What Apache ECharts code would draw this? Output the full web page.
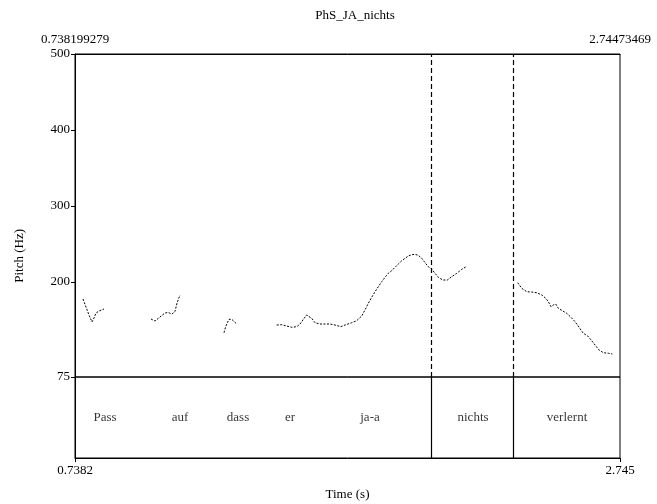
<html>
<head>
    <meta charset="utf-8">
    <script src="https://cdn.jsdelivr.net/npm/echarts@6/dist/echarts.min.js"></script>
    <title>PhS_JA_nichts</title>
    <style>
        html, body { margin: 0; padding: 0; background: #fff; }
    </style>
</head>
<body>
    <div id="main" style="width: 657px; height: 504px;"></div>
    <script>
        // time range of the selection (s)
        const tMin = 0.738199279;
        const tMax = 2.74473469;
        const pitchTicks = [75, 200, 300, 400, 500];

        // pitch contour pieces, [time (s), Hz]
        const seg1 = [[0.7677, 177.6], [0.7787, 167.0], [0.7897, 156.6], [0.8008, 147.4], [0.8082, 152.6],
            [0.8155, 159.2], [0.8266, 161.8], [0.8450, 164.5]];
        const seg2 = [[1.0180, 151.3], [1.0327, 148.7], [1.0512, 154.0], [1.0696, 159.2], [1.0806, 159.9],
            [1.0953, 157.9], [1.1064, 161.2], [1.1138, 172.4], [1.1248, 182.9]];
        const seg3 = [[1.2868, 133.3], [1.2930, 141.2], [1.2989, 146.4], [1.3052, 150.9], [1.3151, 150.9],
            [1.3247, 147.8], [1.3336, 144.7]];
        const seg4 = [[1.4809, 143.4], [1.4993, 143.8], [1.5177, 142.1], [1.5361, 140.4], [1.5545, 141.2],
            [1.5667, 144.7], [1.5788, 150.9], [1.5913, 156.6], [1.6097, 152.2], [1.6219, 146.4],
            [1.6403, 144.7], [1.6587, 144.7], [1.6771, 144.7], [1.6955, 143.4], [1.7165, 141.2],
            [1.7323, 143.4], [1.7570, 146.4], [1.7754, 149.1], [1.7938, 155.3], [1.8060, 163.2],
            [1.8181, 172.0], [1.8306, 179.9], [1.8428, 187.2], [1.8550, 193.8], [1.8675, 200.4],
            [1.8796, 206.2], [1.8918, 211.4], [1.9043, 214.9], [1.9164, 219.3], [1.9286, 223.7],
            [1.9411, 228.0], [1.9533, 231.2], [1.9654, 234.2], [1.9779, 235.9], [1.9901, 236.4],
            [2.0022, 235.1], [2.0148, 231.2], [2.0269, 225.4], [2.0391, 220.1], [2.0516, 216.7],
            [2.0637, 211.4], [2.0759, 206.2], [2.0921, 202.6], [2.1090, 202.6], [2.1252, 207.0],
            [2.1436, 211.4], [2.1620, 216.7], [2.1779, 220.1]];
        const seg5 = [[2.3682, 199.1], [2.3829, 191.7], [2.4014, 187.2], [2.4198, 186.8], [2.4382, 185.9],
            [2.4566, 182.9], [2.4713, 178.6], [2.4809, 174.1], [2.4908, 167.5], [2.4993, 169.7],
            [2.5082, 171.0], [2.5177, 165.4], [2.5324, 162.2], [2.5486, 158.8], [2.5645, 153.5],
            [2.5792, 147.8], [2.5939, 140.4], [2.6098, 132.5], [2.6260, 128.9], [2.6382, 123.7],
            [2.6529, 117.1], [2.6676, 110.5], [2.6834, 107.0], [2.7019, 106.2], [2.7166, 105.3]];

        // text grid
        const boundaries = [2.0526, 2.3509];
        const words = ['Pass', 'auf', 'dass', 'er', 'ja-a', 'nichts', 'verlernt'];
        const wordTimes = [0.8487, 1.1248, 1.3384, 1.5298, 1.8243, 2.2036, 2.5497];

        const font = 'Liberation Serif, Times New Roman, serif';
        const black = '#000';

        var myChart = echarts.init(document.getElementById('main'), null, { renderer: 'canvas' });

        const contour = [seg1, seg2, seg3, seg4, seg5].map((seg, i) => ({
            type: 'line',
            xAxisIndex: 0,
            yAxisIndex: 0,
            data: seg,
            symbol: 'none',
            silent: true,
            animation: false,
            lineStyle: { color: black, width: 1, type: [2, 1.5] },
            markLine: i == 0 ? {
                silent: true,
                symbol: 'none',
                label: { show: false },
                lineStyle: { color: black, width: 1.2, type: [5, 3] },
                data: boundaries.map(b => ({ xAxis: b }))
            } : undefined
        }));

        const option = {
            backgroundColor: '#FFFFFF',
            animation: false,
            title: {
                text: 'PhS_JA_nichts',
                left: 350,
                top: 4,
                textAlign: 'center',
                textStyle: { fontFamily: font, fontSize: 13, fontWeight: 'normal', color: black }
            },
            graphic: [{
                type: 'text',
                left: 13,
                top: 229,
                rotation: Math.PI / 2,
                style: { text: 'Pitch (Hz)', font: '13px ' + font, fill: black }
            }],
            grid: [
                { left: 75, right: 37, top: 54, height: 323, show: true, borderColor: black, borderWidth: 1 },
                { left: 75, right: 37, top: 377, height: 81, show: true, borderColor: black, borderWidth: 1 }
            ],
            xAxis: [{
                gridIndex: 0,
                type: 'value',
                position: 'top',
                min: tMin,
                max: tMax,
                axisLine: { show: true, lineStyle: { color: black } },
                axisTick: { show: false },
                splitLine: { show: false },
                axisLabel: {
                    customValues: [tMin, tMax],
                    showMinLabel: true,
                    showMaxLabel: true,
                    margin: 8,
                    fontFamily: font,
                    fontSize: 13,
                    color: black,
                    formatter: v => (v < 1 ? '0.738199279' : '2.74473469')
                }
            }, {
                gridIndex: 1,
                type: 'value',
                min: tMin,
                max: tMax,
                name: 'Time (s)',
                nameLocation: 'middle',
                nameGap: 30,
                nameTextStyle: { fontFamily: font, fontSize: 13, color: black },
                axisLine: { show: true, lineStyle: { color: black } },
                axisTick: { show: true, length: 4, customValues: [tMin, tMax], lineStyle: { color: black } },
                splitLine: { show: false },
                axisLabel: {
                    customValues: [tMin, tMax],
                    showMinLabel: true,
                    showMaxLabel: true,
                    margin: 6,
                    fontFamily: font,
                    fontSize: 13,
                    color: black,
                    formatter: v => (v < 1 ? '0.7382' : '2.745')
                }
            }],
            yAxis: [{
                gridIndex: 0,
                type: 'value',
                min: 75,
                max: 500,
                axisLine: { show: true, lineStyle: { color: black } },
                axisTick: { show: true, length: 4, customValues: pitchTicks, lineStyle: { color: black } },
                splitLine: { show: false },
                axisLabel: {
                    customValues: pitchTicks,
                    showMinLabel: true,
                    showMaxLabel: true,
                    margin: 5,
                    fontFamily: font,
                    fontSize: 13,
                    color: black
                }
            }, {
                gridIndex: 1,
                type: 'value',
                min: 0,
                max: 1,
                axisLine: { show: true, lineStyle: { color: black } },
                axisTick: { show: false },
                axisLabel: { show: false },
                splitLine: { show: false }
            }],
            series: contour.concat([{
                type: 'scatter',
                xAxisIndex: 1,
                yAxisIndex: 1,
                symbolSize: 0,
                silent: true,
                data: wordTimes.map((t, i) => ({ value: [t, 0.5], name: words[i] })),
                label: {
                    show: true,
                    position: 'inside',
                    formatter: p => p.name,
                    fontFamily: font,
                    fontSize: 13,
                    color: black
                },
                markLine: {
                    silent: true,
                    symbol: 'none',
                    label: { show: false },
                    lineStyle: { color: black, width: 1.2, type: 'solid' },
                    data: boundaries.map(b => ({ xAxis: b }))
                }
            }])
        };
        myChart.setOption(option);
    </script>
</body>
</html>
